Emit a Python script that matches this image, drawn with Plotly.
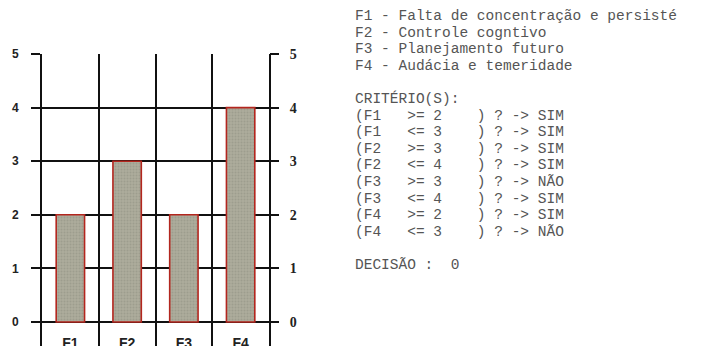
import plotly.graph_objects as go

# chart data
categorias = ["F1", "F2", "F3", "F4"]
valores = [2, 3, 2, 4]
marcas_y = [0, 1, 2, 3, 4, 5]

# text block on the right (one entry per printed line, "" = blank line)
linhas = [
    "F1 - Falta de concentração e persisté",
    "F2 - Controle cogntivo",
    "F3 - Planejamento futuro",
    "F4 - Audácia e temeridade",
    "",
    "CRITÉRIO(S):",
    "(F1   >= 2    ) ? -> SIM",
    "(F1   <= 3    ) ? -> SIM",
    "(F2   >= 3    ) ? -> SIM",
    "(F2   <= 4    ) ? -> SIM",
    "(F3   >= 3    ) ? -> NÃO",
    "(F3   <= 4    ) ? -> SIM",
    "(F4   >= 2    ) ? -> SIM",
    "(F4   <= 3    ) ? -> NÃO",
    "",
    "DECISÃO :  0",
]

# the page body has an 8px margin, so the figure fills what is left of the window
OFF = 8
W, H = 706 - OFF, 346 - OFF


def px(x):
    return (x - OFF) / W


def py(y):
    return 1 - (y - OFF) / H


y_fundo = -24 / 53.6  # axis continues a little below 0
preto = "#111111"

fig = go.Figure()
fig.add_trace(go.Bar(
    x=categorias, y=valores, width=0.5,
    marker=dict(
        color="#a7a696",
        line=dict(color="#b3261e", width=1.6),
        pattern=dict(shape=".", fgcolor="#8e8d7f", bgcolor="#adac9c", size=3, solidity=0.35),
    ),
    hoverinfo="skip", showlegend=False,
))

eixo_y = dict(
    range=[y_fundo, 5], tickvals=marcas_y, domain=[0, py(54)],
    ticks="outside", ticklen=9, tickwidth=2, tickcolor=preto,
    zeroline=False, fixedrange=True, automargin=False,
)

fig.update_layout(
    width=W, height=H,
    margin=dict(l=0, r=0, t=0, b=0),
    paper_bgcolor="white", plot_bgcolor="white",
    xaxis=dict(
        type="category", range=[-0.5, 3.5], domain=[px(42), px(269)],
        anchor="free", position=py(333), automargin=False,
        tickson="boundaries", showgrid=True, gridcolor=preto, gridwidth=2,
        ticks="", ticklabelstandoff=0,
        tickfont=dict(family="Arial", size=14, color="#222222", weight="bold"),
        showline=False, zeroline=False, fixedrange=True,
    ),
    yaxis=dict(
        **eixo_y, showgrid=True, gridcolor=preto, gridwidth=2,
        showline=True, mirror=True, linecolor=preto, linewidth=2,
        ticklabelstandoff=10,
        tickfont=dict(family="Arial", size=12, color="#222222", weight="bold"),
    ),
    yaxis2=dict(
        **eixo_y, overlaying="y", side="right", anchor="x",
        showgrid=False, showline=False, ticklabelstandoff=8,
        tickfont=dict(family="Liberation Serif", size=14, color="#222222", weight="bold"),
    ),
)

# invisible trace so the right axis is drawn
fig.add_trace(go.Scatter(x=categorias, y=valores, yaxis="y2", mode="none",
                         hoverinfo="skip", showlegend=False))

y0, passo = 16, 16.6
for i, linha in enumerate(linhas):
    if not linha:
        continue
    fig.add_annotation(
        text=linha.replace(" ", "\u00a0"),
        xref="paper", yref="paper",
        x=px(353), y=py(y0 + i * passo),
        xanchor="left", yanchor="middle", showarrow=False,
        font=dict(family="Courier New, Liberation Mono, monospace", size=14.5, color="#555555"),
    )

fig.write_html("out.html")
